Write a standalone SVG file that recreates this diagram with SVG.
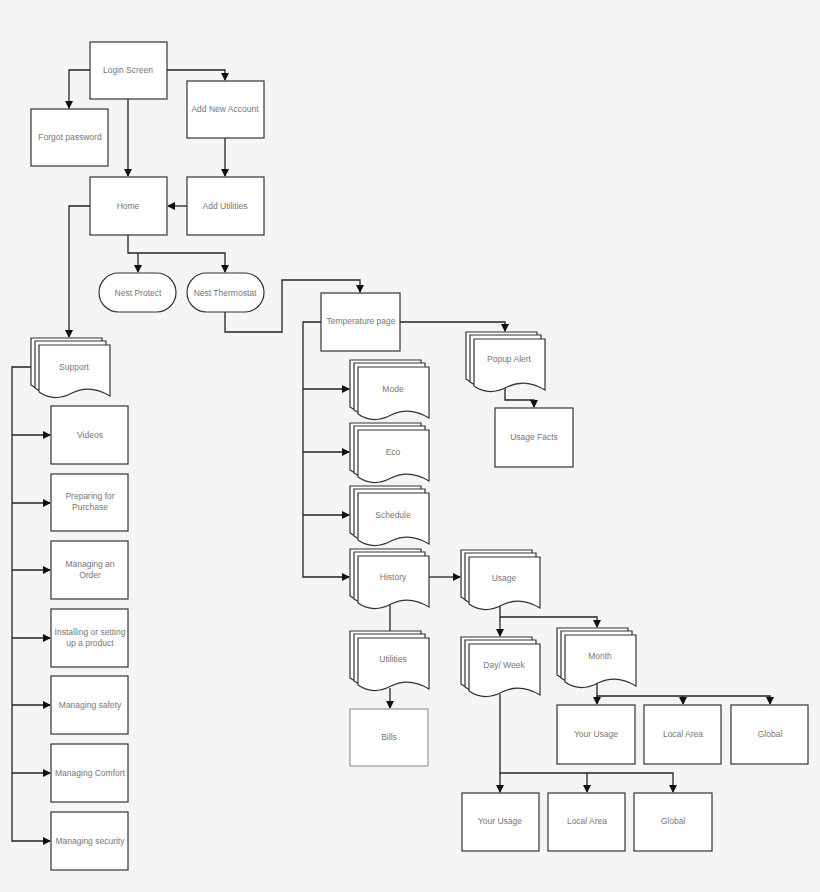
<svg xmlns="http://www.w3.org/2000/svg" xmlns:xlink="http://www.w3.org/1999/xlink" width="820" height="892" viewBox="0 0 820 892">
<style>
.b{fill:#fff;stroke:#333;stroke-width:1.2}
.l{fill:none;stroke:#222;stroke-width:1.3}
text{font-family:"Liberation Sans",Arial,sans-serif;font-size:8.5px;fill:#777;text-anchor:middle}
</style>
<defs>
<marker id="a" markerWidth="8" markerHeight="8" refX="7" refY="4" orient="auto" markerUnits="userSpaceOnUse"><path d="M0,0 L8,4 L0,8 Z" fill="#111"/></marker>
<path id="pg" d="M0,0 H71 V51 C58,43 45,42 33,48 C20,55 10,54 0,47 Z" class="b"/>
<g id="md"><use xlink:href="#pg"/><use xlink:href="#pg" x="4" y="3"/><use xlink:href="#pg" x="8" y="7"/></g>
</defs>
<rect width="820" height="892" fill="#f5f5f5"/>
<g id="connectors" class="l">
<path d="M90,70 H69 V108" marker-end="url(#a)"/>
<path d="M167,70 H225 V80" marker-end="url(#a)"/>
<path d="M128,99 V176" marker-end="url(#a)"/>
<path d="M225,138 V176" marker-end="url(#a)"/>
<path d="M187,206 H168" marker-end="url(#a)"/>
<path d="M128,235 V253 H225 V272" marker-end="url(#a)"/>
<path d="M138,253 V272" marker-end="url(#a)"/>
<path d="M90,206 H69 V337" marker-end="url(#a)"/>
<path d="M225,312 V332 H282 V280 H360 V292" marker-end="url(#a)"/>
<path d="M321,322 H303 V577 H349" marker-end="url(#a)"/>
<path d="M303,389 H349" marker-end="url(#a)"/>
<path d="M303,452 H349" marker-end="url(#a)"/>
<path d="M303,515 H349" marker-end="url(#a)"/>
<path d="M400,322 H505 V331" marker-end="url(#a)"/>
<path d="M505,388 V400 H534 V407" marker-end="url(#a)"/>
<path d="M32,367 H12 V841 H50" marker-end="url(#a)"/>
<path d="M12,435 H50" marker-end="url(#a)"/>
<path d="M12,503 H50" marker-end="url(#a)"/>
<path d="M12,570 H50" marker-end="url(#a)"/>
<path d="M12,638 H50" marker-end="url(#a)"/>
<path d="M12,705 H50" marker-end="url(#a)"/>
<path d="M12,773 H50" marker-end="url(#a)"/>
<path d="M429,577 H460" marker-end="url(#a)"/>
<path d="M390,603 V631"/>
<path d="M390,688 V708" marker-end="url(#a)"/>
<path d="M500,606 V617 H597 V627" marker-end="url(#a)"/>
<path d="M500,617 V636" marker-end="url(#a)"/>
<path d="M597,684 V696 H770 V704" marker-end="url(#a)"/>
<path d="M597,696 V704" marker-end="url(#a)"/>
<path d="M683,696 V704" marker-end="url(#a)"/>
<path d="M500,694 V773 H673 V792" marker-end="url(#a)"/>
<path d="M500,773 V792" marker-end="url(#a)"/>
<path d="M587,773 V792" marker-end="url(#a)"/>
</g>
<g id="login"><rect class="b" x="90" y="42" width="77" height="57"/><text x="128" y="73">Login Screen</text></g>
<g id="forgot"><rect class="b" x="31" y="109" width="77" height="57"/><text x="70" y="140">Forgot password</text></g>
<g id="addacct"><rect class="b" x="187" y="81" width="77" height="57"/><text x="225" y="112">Add New Account</text></g>
<g id="home"><rect class="b" x="90" y="177" width="77" height="58"/><text x="128" y="209">Home</text></g>
<g id="addutil"><rect class="b" x="187" y="177" width="77" height="58"/><text x="225" y="209">Add Utilities</text></g>
<g id="nestprotect"><rect class="b" x="99" y="273" width="77" height="39" rx="19.5"/><text x="138" y="296">Nest Protect</text></g>
<g id="nestthermo"><rect class="b" x="187" y="273" width="77" height="39" rx="19.5"/><text x="225" y="296">Nest Thermostat</text></g>
<g id="temp"><rect class="b" x="321" y="293" width="79" height="58"/><text x="361" y="324">Temperature page</text></g>
<g id="usagefacts"><rect class="b" x="495" y="408" width="78" height="59"/><text x="534" y="440">Usage Facts</text></g>
<g id="support"><use xlink:href="#md" x="31" y="338"/><text x="74" y="370">Support</text></g>
<g id="popup"><use xlink:href="#md" x="466" y="332"/><text x="509" y="362">Popup Alert</text></g>
<g id="mode"><use xlink:href="#md" x="350" y="360"/><text x="393" y="392">Mode</text></g>
<g id="eco"><use xlink:href="#md" x="350" y="423"/><text x="393" y="455">Eco</text></g>
<g id="schedule"><use xlink:href="#md" x="350" y="486"/><text x="393" y="518">Schedule</text></g>
<g id="history"><use xlink:href="#md" x="350" y="549"/><text x="393" y="580">History</text></g>
<g id="usage"><use xlink:href="#md" x="461" y="550"/><text x="504" y="581">Usage</text></g>
<g id="utilities"><use xlink:href="#md" x="350" y="631"/><text x="393" y="662">Utilities</text></g>
<g id="dayweek"><use xlink:href="#md" x="461" y="637"/><text x="504" y="668">Day/ Week</text></g>
<g id="month"><use xlink:href="#md" x="557" y="628"/><text x="600" y="659">Month</text></g>
<g id="bills"><rect x="350" y="709" width="78" height="57" fill="#fff" stroke="#999" stroke-width="1.2"/><text x="389" y="740">Bills</text></g>
<g id="videos"><rect class="b" x="51" y="406" width="77" height="58"/><text x="90" y="438">Videos</text></g>
<g id="prep"><rect class="b" x="51" y="474" width="77" height="57"/><text x="90" y="499">Preparing for</text><text x="90" y="510">Purchase</text></g>
<g id="order"><rect class="b" x="51" y="541" width="77" height="58"/><text x="90" y="567">Managing an</text><text x="90" y="578">Order</text></g>
<g id="install"><rect class="b" x="51" y="609" width="77" height="58"/><text x="90" y="635">Installing or setting</text><text x="90" y="646">up a product</text></g>
<g id="safety"><rect class="b" x="51" y="676" width="77" height="58"/><text x="90" y="708">Managing safety</text></g>
<g id="comfort"><rect class="b" x="51" y="744" width="77" height="58"/><text x="90" y="776">Managing Comfort</text></g>
<g id="security"><rect class="b" x="51" y="812" width="77" height="58"/><text x="90" y="844">Managing security</text></g>
<g id="m_your"><rect class="b" x="557" y="705" width="78" height="59"/><text x="596" y="737">Your Usage</text></g>
<g id="m_local"><rect class="b" x="644" y="705" width="77" height="59"/><text x="683" y="737">Local Area</text></g>
<g id="m_global"><rect class="b" x="731" y="705" width="77" height="59"/><text x="770" y="737">Global</text></g>
<g id="d_your"><rect class="b" x="462" y="793" width="77" height="58"/><text x="500" y="824">Your Usage</text></g>
<g id="d_local"><rect class="b" x="548" y="793" width="77" height="58"/><text x="587" y="824">Local Area</text></g>
<g id="d_global"><rect class="b" x="634" y="793" width="78" height="58"/><text x="673" y="824">Global</text></g>
</svg>
